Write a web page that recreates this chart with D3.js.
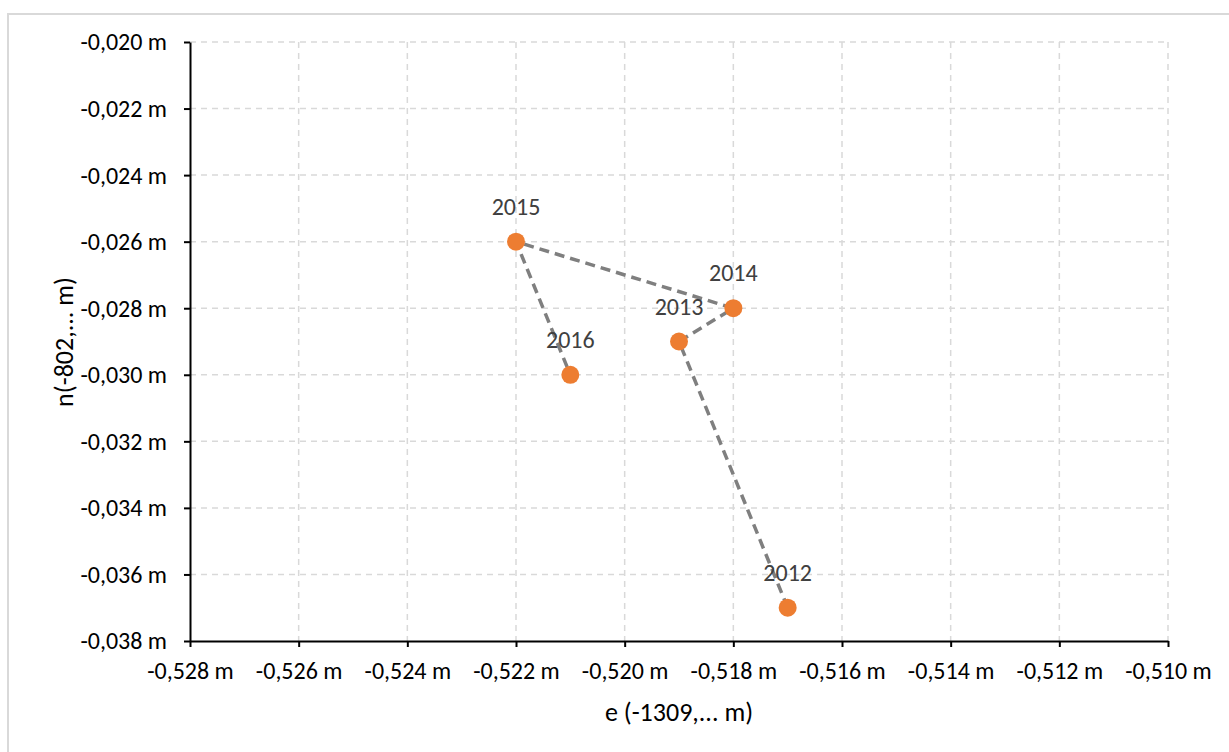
<!DOCTYPE html>
<html>
<head>
<meta charset="utf-8">
<script src="https://cdn.jsdelivr.net/npm/d3@7"></script>
<style>
  body { margin: 0; background: #fff; }
  text { font-family: Carlito, Calibri, "Open Sans", sans-serif; fill: #000; }
</style>
</head>
<body>
<svg id="chart" width="1229" height="752"></svg>
<script>
var years = ['2012', '2013', '2014', '2015', '2016'];
var eValues = [-0.517, -0.519, -0.518, -0.522, -0.521];
var nValues = [-0.037, -0.029, -0.028, -0.026, -0.030];
var xTicks = [-0.528, -0.526, -0.524, -0.522, -0.520, -0.518, -0.516, -0.514, -0.512, -0.510];
var yTicks = [-0.038, -0.036, -0.034, -0.032, -0.030, -0.028, -0.026, -0.024, -0.022, -0.020];

var points = years.map(function(y, i) { return {year: y, e: eValues[i], n: nValues[i]}; });

var svg = d3.select('#chart');
var margin = {left: 190, right: 61, top: 42, bottom: 111};
var width = 1229 - margin.left - margin.right;
var height = 752 - margin.top - margin.bottom;
var font = 'Carlito, Calibri, "Open Sans", sans-serif';

// outer chart frame
svg.append('rect')
  .attr('x', 8).attr('y', 14)
  .attr('width', 1229).attr('height', 752)
  .attr('fill', 'none').attr('stroke', '#d9d9d9').attr('stroke-width', 2);

var g = svg.append('g').attr('transform', 'translate(' + margin.left + ',' + margin.top + ')');

var x = d3.scaleLinear().domain([-0.528, -0.510]).range([0, width]);
var y = d3.scaleLinear().domain([-0.038, -0.020]).range([height, 0]);

var fmt = function(v) { return d3.format('.3f')(v).replace('.', ',').replace('−', '-') + ' m'; };

// grid
g.append('g').selectAll('line').data(xTicks.slice(1)).join('line')
  .attr('x1', x).attr('x2', x).attr('y1', 0).attr('y2', height)
  .attr('stroke', '#d9d9d9').attr('stroke-width', 1.5).attr('stroke-dasharray', '6,5');
g.append('g').selectAll('line').data(yTicks.slice(1)).join('line')
  .attr('y1', y).attr('y2', y).attr('x1', 0).attr('x2', width)
  .attr('stroke', '#d9d9d9').attr('stroke-width', 1.5).attr('stroke-dasharray', '6,5');

// axes
var xAxis = g.append('g').attr('transform', 'translate(0,' + height + ')')
  .call(d3.axisBottom(x).tickValues(xTicks).tickFormat(fmt).tickSize(6).tickSizeOuter(0));
var yAxis = g.append('g')
  .call(d3.axisLeft(y).tickValues(yTicks).tickFormat(fmt).tickSize(6).tickSizeOuter(0));
[xAxis, yAxis].forEach(function(a) {
  a.attr('font-family', font).attr('font-size', 24);
  a.select('.domain').attr('stroke', '#000').attr('stroke-width', 2);
  a.selectAll('.tick line').attr('stroke', '#000').attr('stroke-width', 2);
  a.selectAll('.tick text').attr('fill', '#000');
});
xAxis.selectAll('.tick text').attr('y', 38).attr('dy', null);
yAxis.selectAll('.tick text').attr('x', -23).attr('dy', '0.33em');

// connecting line
var line = d3.line().x(function(d) { return x(d.e); }).y(function(d) { return y(d.n); });
g.append('path').datum(points)
  .attr('d', line).attr('fill', 'none')
  .attr('stroke', '#7f7f7f').attr('stroke-width', 3.5).attr('stroke-dasharray', '10,6');

// markers
g.selectAll('circle.pt').data(points).join('circle')
  .attr('class', 'pt')
  .attr('cx', function(d) { return x(d.e); })
  .attr('cy', function(d) { return y(d.n); })
  .attr('r', 9)
  .attr('fill', '#ed7d31');

g.selectAll('text.lbl').data(points).join('text')
  .attr('class', 'lbl')
  .attr('x', function(d) { return x(d.e); })
  .attr('y', function(d) { return y(d.n) - 27; })
  .attr('text-anchor', 'middle')
  .attr('font-size', 24)
  .style('fill', '#404040')
  .text(function(d) { return d.year; });

// axis titles
svg.append('text')
  .attr('x', margin.left + width / 2).attr('y', 721)
  .attr('text-anchor', 'middle').attr('font-size', 26)
  .text('e (-1309,... m)');
svg.append('text')
  .attr('transform', 'translate(73,342) rotate(-90)')
  .attr('text-anchor', 'middle').attr('font-size', 26)
  .text('n(-802,... m)');
</script>
</body>
</html>
